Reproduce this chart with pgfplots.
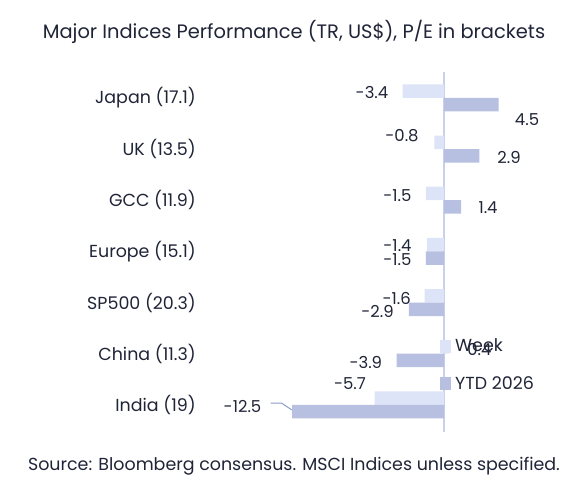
\documentclass[border=0pt]{standalone}
\usepackage{pgfplots}
\usepackage{pgfplotstable}
\pgfplotsset{compat=1.18}
\usepackage{fontspec}
\setmainfont{Poppins}

\definecolor{weekc}{HTML}{DDE4F8}
\definecolor{ytdc}{HTML}{B7C0E0}
\definecolor{zeroc}{HTML}{C8D0EC}
\definecolor{txt}{HTML}{1F2437}
\definecolor{leader}{HTML}{8C9CC8}

% y: 0 = India ... 6 = Japan; dx/dy move the value label (bp)
\pgfplotstableread{
y x lbl dx dy
6 -3.4 -3.4 -30.7 -1.5
5 -0.8 -0.8 -32.3 6.4
4 -1.5 -1.5 -28.3 -2.1
3 -1.4 -1.4 -29.5 -1
2 -1.6 -1.6 -27.8 -2.4
1 0.4 0.4 30.6 -3
0 -5.7 -5.7 -24.7 15
}\weektab

\pgfplotstableread{
y x lbl dx dy
6 4.5 4.5 28.3 -15.2
5 2.9 2.9 29.7 -1.4
4 1.4 1.4 27 -0.6
3 -1.5 -1.5 -28.3 -1.8
2 -2.9 -2.9 -31.2 -2.3
1 -3.9 -3.9 -30.8 -2.1
0 -12.5 -12.5 -49.5 5
}\ytdtab

\begin{document}
\begin{tikzpicture}[font=\fontsize{17.5}{20}\selectfont, text=txt]
\path (0,0) rectangle (588bp,496bp);
\node[font=\fontsize{19.5}{22}\selectfont] at (294bp,464bp) {Major Indices Performance (TR, US\$), P/E in brackets};
\node at (294bp,30bp) {Source: Bloomberg consensus. MSCI Indices unless specified.};
\begin{axis}[
    at={(200.8bp,64bp)}, anchor=south west,
    scale only axis,
    width=340.5bp, height=360.2bp,
    xmin=-20, xmax=8, ymin=-0.53, ymax=6.51,
    xbar, bar width=13.5bp,
    axis line style={draw=none},
    xtick=\empty, ytick={0,...,6},
    yticklabels={India (19), China (11.3), SP500 (20.3), Europe (15.1), GCC (11.9), UK (13.5), Japan (17.1)},
    major tick length=0pt,
    yticklabel style={anchor=east, inner sep=0pt, xshift=-4.8bp, text=txt, font=\fontsize{17.5}{20}\selectfont},
    extra x ticks={0}, extra x tick labels={},
    extra x tick style={grid=major, major grid style={draw=zeroc, line width=1.6bp}},
    clip=false,
    legend image code/.code={\fill[#1] (0bp,-6.5bp) rectangle (11bp,6.5bp);},
    legend cell align=left,
    legend style={at={(axis cs:-0.33,1.29)}, anchor=north west, draw=none, fill=none,
        inner sep=0pt, row sep=23bp, column sep=4bp,
        nodes={inner sep=0pt, text=txt}, font=\fontsize{17.5}{20}\selectfont},
    point meta=explicit symbolic,
    visualization depends on={\thisrow{dx}\as\dx},
    visualization depends on={\thisrow{dy}\as\dy},
    nodes near coords,
    every node near coord/.append style={anchor=center, xshift=\dx bp, yshift=\dy bp,
        text=txt, inner sep=0pt, font=\fontsize{16.5}{19}\selectfont},
]

\addplot[fill=weekc, draw=none, bar shift=6.75bp]
    table[x=x, y=y, meta=lbl] {\weektab};
\addlegendentry{Week}

\addplot[fill=ytdc, draw=none, bar shift=-6.75bp]
    table[x=x, y=y, meta=lbl] {\ytdtab};
\addlegendentry{YTD 2026}

% leader line to the India YTD label
\draw[leader, line width=1bp] (axis cs:-14.25,0.033) -- (axis cs:-13.35,0.033) -- (axis cs:-12.52,-0.098);
\end{axis}
\end{tikzpicture}
\end{document}
